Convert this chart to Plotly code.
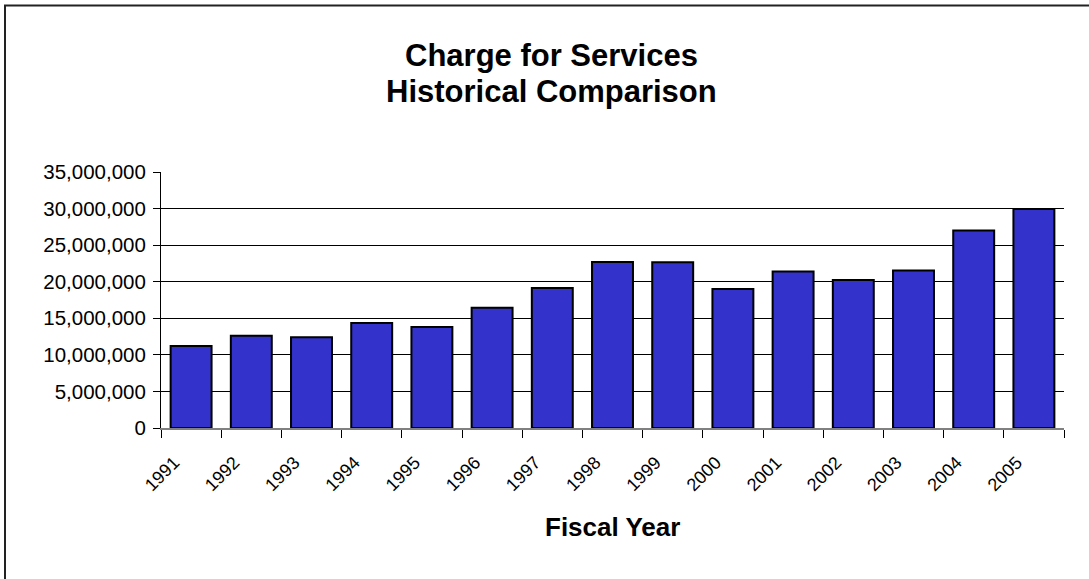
import plotly.graph_objects as go

years = ["1991", "1992", "1993", "1994", "1995", "1996", "1997", "1998",
         "1999", "2000", "2001", "2002", "2003", "2004", "2005"]
charges = [11200000, 12600000, 12400000, 14350000, 13800000, 16450000, 19150000,
           22700000, 22650000, 19000000, 21400000, 20250000, 21550000, 27000000, 29950000]

W, H = 1089, 579
L, R, T, B = 161, 25, 172, 151
pw, ph = W - L - R, H - T - B

def px_x(x):
    return (x - L) / pw

def px_y(y):
    return (H - B - y) / ph

FONT = "Arial, 'Liberation Sans', sans-serif"

fig = go.Figure(go.Bar(
    x=years, y=charges,
    marker=dict(color="#3333CC", line=dict(color="black", width=2)),
))

fig.update_layout(
    width=W, height=H,
    margin=dict(l=L, r=R, t=T, b=B, pad=0),
    paper_bgcolor="white", plot_bgcolor="white",
    bargap=0.32,
    showlegend=False,
    font=dict(family=FONT, color="black", size=20),
)

fig.update_yaxes(
    range=[0, 35000000], dtick=5000000, tickformat=",",
    showgrid=True, gridcolor="black", gridwidth=1,
    showline=True, linecolor="black", linewidth=1,
    ticks="outside", ticklen=7, tickcolor="black",
    tickfont=dict(family=FONT, size=20.5, color="black"),
    ticklabelstandoff=3,
    zeroline=False,
)
fig.update_xaxes(
    type="category", tickangle=-45, tickson="boundaries",
    ticks="outside", ticklen=8, tickcolor="black",
    showline=True, linecolor="#808080", linewidth=2,
    tickfont=dict(family=FONT, size=18, color="black"),
    ticklabelstandoff=15, ticklabelshift=-17,
    showgrid=False,
)

fig.add_annotation(text="<b>Charge for Services</b>", xref="paper", yref="paper",
                   x=px_x(551), y=px_y(55), showarrow=False, xanchor="center", yanchor="middle",
                   font=dict(family=FONT, size=31, color="black"))
fig.add_annotation(text="<b>Historical Comparison</b>", xref="paper", yref="paper",
                   x=px_x(551), y=px_y(91), showarrow=False, xanchor="center", yanchor="middle",
                   font=dict(family=FONT, size=31, color="black"))
fig.add_annotation(text="<b>Fiscal Year</b>", xref="paper", yref="paper",
                   x=px_x(612), y=px_y(527), showarrow=False, xanchor="center", yanchor="middle",
                   font=dict(family=FONT, size=26, color="black"))

fig.add_shape(type="rect", xref="paper", yref="paper",
              x0=px_x(5), x1=px_x(1200), y0=px_y(700), y1=px_y(5.5),
              line=dict(color="#222222", width=2), fillcolor="rgba(0,0,0,0)", layer="below")

fig.write_html("out.html", config={"displayModeBar": False},
               post_script="document.body.style.margin='0';")
